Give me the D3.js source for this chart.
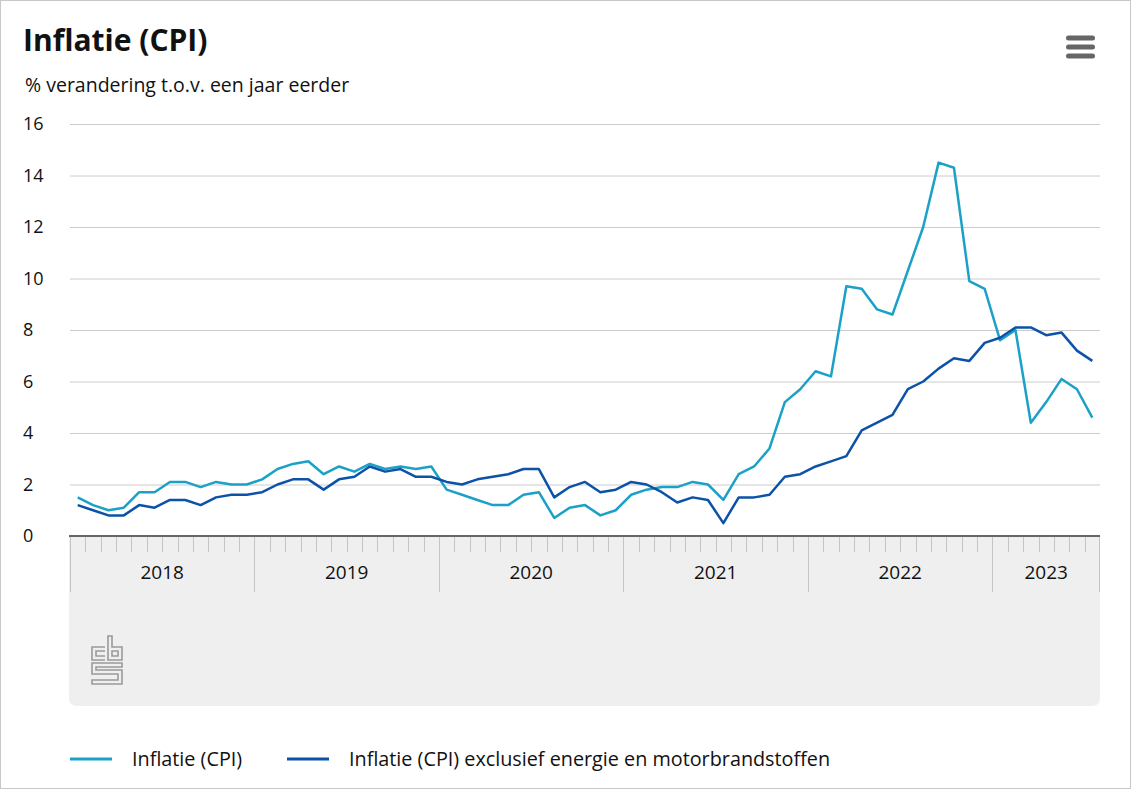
<!DOCTYPE html>
<html>
<head>
<meta charset="utf-8">
<script src="https://cdn.jsdelivr.net/npm/d3@7"></script>
<style>
html,body{margin:0;padding:0;background:#fff;}
svg{display:block;}
text{font-family:"Open Sans",sans-serif;}
</style>
</head>
<body>
<svg id="chart" width="1131" height="789"></svg>
<script>
// ---- data ----
const years = ["2018","2019","2020","2021","2022","2023"];
const monthsPerYear = [12,12,12,12,12,7];
const cpi = [
  1.5,1.2,1.0,1.1,1.7,1.7,2.1,2.1,1.9,2.1,2.0,2.0,
  2.2,2.6,2.8,2.9,2.4,2.7,2.5,2.8,2.6,2.7,2.6,2.7,
  1.8,1.6,1.4,1.2,1.2,1.6,1.7,0.7,1.1,1.2,0.8,1.0,
  1.6,1.8,1.9,1.9,2.1,2.0,1.4,2.4,2.7,3.4,5.2,5.7,
  6.4,6.2,9.7,9.6,8.8,8.6,10.3,12.0,14.5,14.3,9.9,9.6,
  7.6,8.0,4.4,5.2,6.1,5.7,4.6
];
const cpiCore = [
  1.2,1.0,0.8,0.8,1.2,1.1,1.4,1.4,1.2,1.5,1.6,1.6,
  1.7,2.0,2.2,2.2,1.8,2.2,2.3,2.7,2.5,2.6,2.3,2.3,
  2.1,2.0,2.2,2.3,2.4,2.6,2.6,1.5,1.9,2.1,1.7,1.8,
  2.1,2.0,1.7,1.3,1.5,1.4,0.5,1.5,1.5,1.6,2.3,2.4,
  2.7,2.9,3.1,4.1,4.4,4.7,5.7,6.0,6.5,6.9,6.8,7.5,
  7.7,8.1,8.1,7.8,7.9,7.2,6.8
];
const yTicks = [0,2,4,6,8,10,12,14,16];
const seriesNames = ["Inflatie (CPI)","Inflatie (CPI) exclusief energie en motorbrandstoffen"];
const seriesColors = ["#1ba1c8","#0b52a8"];

// ---- build months ----
const months = [];
years.forEach((y,i)=>{ for(let m=0;m<monthsPerYear[i];m++) months.push(y+"-"+(m+1)); });

const svg = d3.select("#chart");
const W = 1131, H = 789;
const L = 70, R = 1100, T = 124, B = 536;

// border
svg.append("rect").attr("x",0.5).attr("y",0.5).attr("width",W-1).attr("height",H-1)
  .attr("fill","#fff").attr("stroke","#c8c8c8");

// title
svg.append("text").attr("x",23).attr("y",51).attr("font-size",30).attr("font-weight",700)
  .attr("fill","#111").text("Inflatie (CPI)");
svg.append("text").attr("x",25).attr("y",92).attr("font-size",19.5).attr("fill","#111")
  .text("% verandering t.o.v. een jaar eerder");

// hamburger
[0,1,2].forEach(i=>{
  svg.append("rect").attr("x",1066).attr("y",35.5+i*9).attr("width",29).attr("height",5)
    .attr("rx",2.5).attr("fill","#666");
});

// scales
const x = d3.scaleBand().domain(months).range([L,R]).padding(0);
const y = d3.scaleLinear().domain([0,16]).range([B,T]);

// gray axis panel
const panelBottom = 706, rr = 8;
svg.append("path")
  .attr("d",`M${L-1},${B} H${R} V${panelBottom-rr} Q${R},${panelBottom} ${R-rr},${panelBottom} H${L-1+rr} Q${L-1},${panelBottom} ${L-1},${panelBottom-rr} Z`)
  .attr("fill","#efefef");

// gridlines
const yAxis = d3.axisLeft(y).tickValues(yTicks).tickSize(-(R-L)).tickFormat(d3.format("d"));
const gy = svg.append("g").attr("transform",`translate(${L},0)`).call(yAxis);
gy.select(".domain").remove();
gy.selectAll(".tick line").attr("stroke","#cccccc").attr("stroke-width",1);
gy.selectAll(".tick text").attr("x",-47).attr("text-anchor","start").attr("font-size",18)
  .attr("fill","#111").attr("font-family","Open Sans, sans-serif").attr("dy","0.32em");
gy.selectAll(".tick").filter(d=>d===0).select("line").remove();

// month ticks
const g = svg.append("g");
months.forEach((m,i)=>{
  const isYearStart = m.endsWith("-1");
  const xx = Math.round(x(m))+0.5;
  g.append("line").attr("x1",xx).attr("x2",xx).attr("y1",B).attr("y2",isYearStart?592:552)
    .attr("stroke","#c4c4c4").attr("stroke-width",1);
});
g.append("line").attr("x1",R-0.5).attr("x2",R-0.5).attr("y1",B).attr("y2",592)
  .attr("stroke","#c4c4c4");
// axis line
svg.append("line").attr("x1",L-1).attr("x2",R).attr("y1",B).attr("y2",B)
  .attr("stroke","#666").attr("stroke-width",2);

// year labels
let idx = 0;
years.forEach((yr,i)=>{
  const first = months[idx], last = months[idx+monthsPerYear[i]-1];
  const cx = (x(first)+x(last)+x.bandwidth())/2;
  svg.append("text").attr("x",cx).attr("y",579).attr("text-anchor","middle")
    .attr("font-size",19).attr("fill","#111").text(yr);
  idx += monthsPerYear[i];
});

// lines
const line = d3.line().x((d,i)=>x(months[i])+x.bandwidth()/2).y(d=>y(d));
[cpi,cpiCore].forEach((s,i)=>{
  svg.append("path").datum(s).attr("d",line).attr("fill","none")
    .attr("stroke",seriesColors[i]).attr("stroke-width",2.5).attr("stroke-linejoin","round");
});

// CBS logo
const logo = svg.append("g").attr("transform","translate(91,636)")
  .attr("fill","none").attr("stroke","#9a9a9a").attr("stroke-width",1.6);
logo.append("path").attr("d","M14,11 H1 V24 H14 M14,15 H5 V20 H14");
logo.append("path").attr("d","M17,0 H21 V11 H31 V24 H17 Z M21,15 H27 V20 H21 Z");
logo.append("path").attr("d","M31,27 H1 V38 H27 V44 H1 V48 H31 V34 H5 V31 H31 Z");

// legend
const lg = svg.append("g");
const legX = [70,287];
seriesNames.forEach((n,i)=>{
  lg.append("line").attr("x1",legX[i]).attr("x2",legX[i]+42).attr("y1",759).attr("y2",759)
    .attr("stroke",seriesColors[i]).attr("stroke-width",3);
  lg.append("text").attr("x",legX[i]+62).attr("y",766).attr("font-size",19.8).attr("fill","#111").text(n);
});
</script>
</body>
</html>
